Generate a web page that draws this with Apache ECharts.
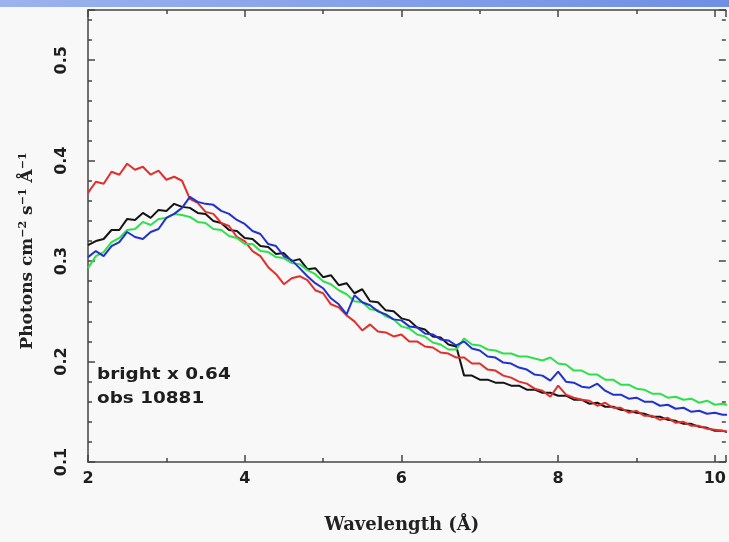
<!DOCTYPE html>
<html>
<head>
<meta charset="utf-8">
<script src="https://cdn.jsdelivr.net/npm/echarts@6/dist/echarts.min.js"></script>
<style>
  html, body { margin: 0; padding: 0; background: #f8f8f8; }
  #chart { width: 729px; height: 542px; }
</style>
</head>
<body>
<div id="chart"></div>
<script>
// wavelength grid (Å)
const wavelength = [
  2.0, 2.1, 2.2, 2.3, 2.4, 2.5, 2.6, 2.7, 2.8, 2.9,
  3.0, 3.1, 3.2, 3.3, 3.4, 3.5, 3.6, 3.7, 3.8, 3.9,
  4.0, 4.1, 4.2, 4.3, 4.4, 4.5, 4.6, 4.7, 4.8, 4.9,
  5.0, 5.1, 5.2, 5.3, 5.4, 5.5, 5.6, 5.7, 5.8, 5.9,
  6.0, 6.1, 6.2, 6.3, 6.4, 6.5, 6.6, 6.7, 6.8, 6.9,
  7.0, 7.1, 7.2, 7.3, 7.4, 7.5, 7.6, 7.7, 7.8, 7.9,
  8.0, 8.1, 8.2, 8.3, 8.4, 8.5, 8.6, 8.7, 8.8, 8.9,
  9.0, 9.1, 9.2, 9.3, 9.4, 9.5, 9.6, 9.7, 9.8, 9.9,
  10.0, 10.1, 10.2
]

// photons cm^-2 s^-1 Å^-1
const blackFlux = [
  0.316, 0.320, 0.322, 0.331, 0.331, 0.342, 0.341, 0.348, 0.343, 0.351,
  0.350, 0.357, 0.354, 0.353, 0.348, 0.347, 0.340, 0.338, 0.331, 0.330,
  0.323, 0.322, 0.315, 0.314, 0.307, 0.308, 0.300, 0.302, 0.292, 0.293,
  0.284, 0.286, 0.276, 0.278, 0.268, 0.272, 0.260, 0.259, 0.251, 0.250,
  0.243, 0.241, 0.234, 0.232, 0.225, 0.224, 0.217, 0.215, 0.186, 0.186,
  0.182, 0.182, 0.179, 0.179, 0.176, 0.176, 0.172, 0.172, 0.169, 0.169,
  0.166, 0.166, 0.162, 0.162, 0.158, 0.159, 0.155, 0.155, 0.152, 0.151,
  0.149, 0.148, 0.145, 0.145, 0.142, 0.141, 0.138, 0.138, 0.135, 0.134,
  0.131, 0.131, 0.129
]

const redFlux = [
  0.368, 0.379, 0.377, 0.389, 0.386, 0.397, 0.391, 0.394, 0.386, 0.390,
  0.381, 0.384, 0.380, 0.362, 0.358, 0.349, 0.347, 0.338, 0.335, 0.324,
  0.320, 0.310, 0.305, 0.294, 0.287, 0.277, 0.283, 0.285, 0.281, 0.271,
  0.268, 0.257, 0.254, 0.246, 0.240, 0.231, 0.237, 0.230, 0.229, 0.225,
  0.227, 0.220, 0.220, 0.215, 0.214, 0.209, 0.208, 0.204, 0.204, 0.198,
  0.198, 0.192, 0.191, 0.186, 0.184, 0.180, 0.178, 0.173, 0.171, 0.165,
  0.176, 0.167, 0.164, 0.162, 0.161, 0.156, 0.159, 0.154, 0.154, 0.149,
  0.151, 0.146, 0.146, 0.142, 0.144, 0.139, 0.140, 0.136, 0.136, 0.133,
  0.132, 0.131, 0.130
]

const greenFlux = [
  0.293, 0.305, 0.309, 0.319, 0.323, 0.331, 0.332, 0.339, 0.336, 0.342,
  0.343, 0.347, 0.346, 0.344, 0.339, 0.338, 0.332, 0.331, 0.325, 0.323,
  0.317, 0.317, 0.310, 0.309, 0.304, 0.303, 0.298, 0.297, 0.291, 0.287,
  0.280, 0.277, 0.271, 0.267, 0.260, 0.259, 0.252, 0.251, 0.245, 0.242,
  0.235, 0.233, 0.227, 0.225, 0.219, 0.217, 0.212, 0.212, 0.223, 0.217,
  0.216, 0.212, 0.211, 0.208, 0.208, 0.205, 0.205, 0.203, 0.201, 0.204,
  0.198, 0.197, 0.191, 0.191, 0.187, 0.187, 0.182, 0.182, 0.177, 0.177,
  0.173, 0.172, 0.168, 0.168, 0.164, 0.165, 0.162, 0.163, 0.159, 0.161,
  0.157, 0.158, 0.156
]

const blueFlux = [
  0.304, 0.310, 0.305, 0.315, 0.319, 0.329, 0.324, 0.322, 0.329, 0.332,
  0.343, 0.347, 0.353, 0.364, 0.359, 0.357, 0.356, 0.350, 0.347, 0.341,
  0.337, 0.330, 0.327, 0.317, 0.315, 0.305, 0.301, 0.293, 0.285, 0.278,
  0.273, 0.263, 0.257, 0.247, 0.266, 0.259, 0.256, 0.250, 0.247, 0.242,
  0.241, 0.235, 0.234, 0.228, 0.227, 0.222, 0.221, 0.216, 0.220, 0.213,
  0.211, 0.205, 0.204, 0.199, 0.198, 0.194, 0.192, 0.187, 0.186, 0.181,
  0.190, 0.180, 0.179, 0.175, 0.174, 0.178, 0.171, 0.167, 0.167, 0.163,
  0.164, 0.160, 0.160, 0.156, 0.157, 0.153, 0.154, 0.150, 0.151, 0.148,
  0.149, 0.147, 0.147
]

// the right edge of the frame falls just outside the picture
const xMin = 2, xMax = 10.14
const yMin = 0.1, yMax = 0.55

const frameColor = '#444'
const tickFont = { color: '#1e1e1e', fontSize: 16, fontFamily: 'DejaVu Sans', fontWeight: 'bold' }

const pairs = (ys) => wavelength.map((x, i) => [x, ys[i]])

const chart = echarts.init(document.getElementById('chart'))

const baseX = {
  type: 'value',
  min: xMin,
  max: xMax,
  interval: 2,
  splitLine: { show: false },
  axisLine: { show: true, lineStyle: { color: frameColor, width: 1.5 } },
  axisTick: { show: true, inside: true, length: 7, lineStyle: { color: frameColor, width: 1.5 } },
  minorTick: { show: true, splitNumber: 2, length: 4, lineStyle: { color: frameColor, width: 1.5 } },
}

const baseY = {
  type: 'value',
  min: yMin,
  max: yMax,
  splitLine: { show: false },
  axisLine: { show: true, lineStyle: { color: frameColor, width: 1.5 } },
  axisTick: { show: true, inside: true, lineStyle: { color: frameColor, width: 1.5 } },
}

const option = {
  backgroundColor: '#f8f8f8',
  animation: false,
  grid: { left: 88, top: 10, right: 0, height: 452 },
  xAxis: [
    {
      ...baseX,
      position: 'bottom',
      name: 'Wavelength (Å)',
      nameLocation: 'middle',
      nameGap: 54,
      nameTextStyle: { color: '#222', fontSize: 18, fontFamily: 'DejaVu Serif', fontWeight: 'bold', padding: [0, 10, 0, 0] },
      axisLabel: {
        ...tickFont,
        margin: 9,
        formatter: (v) => (v <= 10.001 ? String(Math.round(v)) : ''),
      },
    },
    {
      ...baseX,
      position: 'top',
      axisLabel: { show: false },
    },
  ],
  yAxis: [
    {
      ...baseY,
      position: 'left',
      interval: 0.1,
      axisTick: { ...baseY.axisTick, length: 7 },
      name: 'Photons cm{sup|−2} s{sup|−1} Å{sup|−1}',
      nameLocation: 'middle',
      nameRotate: 90,
      nameGap: 51,
      nameTextStyle: {
        color: '#222',
        fontSize: 17,
        fontFamily: 'DejaVu Serif',
        fontWeight: 'bold',
        padding: [0, 30, 0, 0],
        rich: {
          sup: { fontSize: 11, fontFamily: 'DejaVu Serif', fontWeight: 'bold', color: '#222', verticalAlign: 'top', padding: [0, 0, 8, 0] },
        },
      },
      axisLabel: {
        ...tickFont,
        rotate: 90,
        margin: 18,
        formatter: (v) => (v <= 0.5001 ? v.toFixed(1) : ''),
      },
    },
    {
      ...baseY,
      position: 'left',
      interval: 0.02,
      axisLine: { show: false },
      axisTick: { ...baseY.axisTick, length: 4 },
      axisLabel: { show: false },
    },
    {
      ...baseY,
      position: 'right',
      interval: 0.1,
      axisLine: { show: false },
      axisTick: { ...baseY.axisTick, length: 7 },
      axisLabel: { show: false },
    },
    {
      ...baseY,
      position: 'right',
      interval: 0.02,
      axisLine: { show: false },
      axisTick: { ...baseY.axisTick, length: 4 },
      axisLabel: { show: false },
    },
  ],
  series: [
    { name: 'black', data: pairs(blackFlux), color: '#141414' },
    { name: 'red', data: pairs(redFlux), color: '#e0302c' },
    { name: 'green', data: pairs(greenFlux), color: '#2fe04c' },
    { name: 'blue', data: pairs(blueFlux), color: '#2232cc' },
  ].map((s) => ({
    ...s,
    type: 'line',
    xAxisIndex: 0,
    yAxisIndex: 0,
    showSymbol: false,
    lineStyle: { width: 2, color: s.color },
  })),
  graphic: [
    {
      type: 'rect',
      left: 0,
      top: 0,
      z: 100,
      shape: { width: 729, height: 7 },
      style: {
        fill: new echarts.graphic.LinearGradient(0, 0, 1, 0, [
          { offset: 0, color: '#9bb3ee' },
          { offset: 1, color: '#6f8fe4' },
        ]),
      },
    },
    {
      type: 'text',
      left: 97,
      top: 363,
      z: 100,
      scaleX: 1.15,
      style: {
        text: 'bright x 0.64\nobs 10881',
        fill: '#1e1e1e',
        font: 'bold 16px "DejaVu Sans"',
        lineHeight: 24,
      },
    },
  ],
}

chart.setOption(option)
</script>
</body>
</html>
